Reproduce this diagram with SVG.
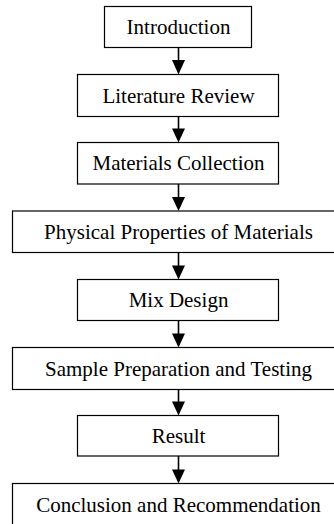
<svg xmlns="http://www.w3.org/2000/svg" width="334" height="524" viewBox="0 0 334 524">
<style>
.box{fill:#fff;stroke:#000;stroke-width:1.2}
.lbl{font-family:"Liberation Serif","Times New Roman",serif;font-size:21px;fill:#000;text-anchor:middle}
.conn{stroke:#000;stroke-width:1.6;fill:none}
.head{fill:#000;stroke:none}
</style>
<rect width="334" height="524" fill="#fff"/>
<g id="connectors">
<line class="conn" x1="178.5" y1="47.5" x2="178.5" y2="61"/><polygon class="head" points="172,60 185,60 178.5,74.5"/>
<line class="conn" x1="178.5" y1="116.5" x2="178.5" y2="129"/><polygon class="head" points="172,128.5 185,128.5 178.5,142.5"/>
<line class="conn" x1="178.5" y1="184" x2="178.5" y2="198"/><polygon class="head" points="172,197 185,197 178.5,211"/>
<line class="conn" x1="178.5" y1="252.5" x2="178.5" y2="266"/><polygon class="head" points="172,265.5 185,265.5 178.5,279.5"/>
<line class="conn" x1="178.5" y1="320.5" x2="178.5" y2="334"/><polygon class="head" points="172,333.5 185,333.5 178.5,347.5"/>
<line class="conn" x1="178.5" y1="389.5" x2="178.5" y2="402"/><polygon class="head" points="172,401.5 185,401.5 178.5,415.5"/>
<line class="conn" x1="178.5" y1="456" x2="178.5" y2="470"/><polygon class="head" points="172,469.5 185,469.5 178.5,483.5"/>
</g>
<g id="n1"><rect class="box" x="104.5" y="6.5" width="147" height="41"/><text class="lbl" x="178.5" y="34">Introduction</text></g>
<g id="n2"><rect class="box" x="77.5" y="74.5" width="201" height="42"/><text class="lbl" x="178.5" y="102.5">Literature Review</text></g>
<g id="n3"><rect class="box" x="77.5" y="142.5" width="201" height="41.5"/><text class="lbl" x="178.5" y="170.2">Materials Collection</text></g>
<g id="n4"><rect class="box" x="12.5" y="211" width="333" height="41.5"/><text class="lbl" x="178.5" y="238.7">Physical Properties of Materials</text></g>
<g id="n5"><rect class="box" x="77.5" y="279.5" width="201" height="41"/><text class="lbl" x="178.5" y="307">Mix Design</text></g>
<g id="n6"><rect class="box" x="12.5" y="347.5" width="333" height="42"/><text class="lbl" x="178.5" y="375.5">Sample Preparation and Testing</text></g>
<g id="n7"><rect class="box" x="77.5" y="415.5" width="201" height="40.5"/><text class="lbl" x="178.5" y="442.7">Result</text></g>
<g id="n8"><rect class="box" x="12.5" y="483.5" width="333" height="42"/><text class="lbl" x="178.5" y="511.5">Conclusion and Recommendation</text></g>
</svg>
